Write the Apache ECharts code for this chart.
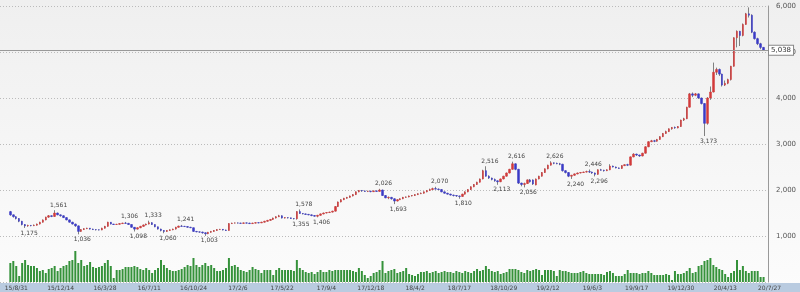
<!DOCTYPE html>
<html><head><meta charset="utf-8">
<script src="https://cdn.jsdelivr.net/npm/echarts@6/dist/echarts.min.js"></script>
<style>html,body{margin:0;padding:0;background:#fff}#c{width:800px;height:292px}</style>
</head><body><div id="c"></div>
<script>
// ---- data (weekly, first week 2015-08-31) ----
const firstWeek = [2015, 8, 31];
const tickLabels = ['15/8/31','15/12/14','16/3/28','16/7/11','16/10/24','17/2/6','17/5/22','17/9/4','17/12/18','18/4/2','18/7/17','18/10/29','19/2/12','19/6/3','19/9/17','19/12/30','20/4/13','20/7/27'];
const tickEvery = 15;
// [open, close, low, high]
const ohlc = [
[1530,1460,1440,1545],[1460,1420,1400,1470],[1420,1380,1360,1430],[1380,1320,1300,1390],[1320,1250,1230,1330],
[1250,1220,1175,1260],[1220,1230,1200,1245],[1230,1225,1210,1240],[1225,1235,1215,1250],[1235,1260,1225,1270],
[1260,1300,1250,1310],[1300,1350,1290,1360],[1350,1410,1340,1420],[1410,1440,1395,1455],[1440,1425,1410,1450],
[1425,1500,1415,1561],[1500,1460,1450,1510],[1460,1440,1420,1470],[1440,1400,1390,1450],[1400,1350,1340,1410],
[1350,1300,1290,1360],[1300,1260,1250,1310],[1260,1220,1200,1270],[1220,1100,1036,1230],[1100,1140,1090,1150],
[1140,1160,1130,1170],[1160,1170,1150,1180],[1170,1150,1140,1175],[1150,1140,1130,1160],[1140,1135,1120,1150],
[1135,1130,1120,1145],[1130,1170,1125,1180],[1170,1210,1160,1220],[1210,1300,1200,1310],[1300,1260,1250,1305],
[1260,1250,1240,1265],[1250,1255,1240,1265],[1255,1270,1245,1280],[1270,1280,1260,1290],[1280,1275,1265,1306],
[1275,1250,1240,1285],[1250,1190,1180,1255],[1190,1150,1098,1195],[1150,1180,1140,1190],[1180,1210,1170,1220],
[1210,1240,1200,1250],[1240,1260,1230,1270],[1260,1290,1250,1333],[1290,1250,1240,1300],[1250,1200,1190,1255],
[1200,1150,1140,1205],[1150,1120,1100,1160],[1120,1100,1060,1130],[1100,1120,1090,1130],[1120,1135,1110,1145],
[1135,1150,1125,1160],[1150,1190,1140,1200],[1190,1215,1180,1225],[1215,1210,1200,1241],[1210,1205,1195,1220],
[1205,1190,1180,1215],[1190,1180,1170,1200],[1180,1100,1090,1185],[1100,1090,1080,1110],[1090,1085,1070,1100],
[1085,1070,1050,1095],[1070,1050,1003,1080],[1050,1080,1040,1090],[1080,1100,1070,1110],[1100,1120,1090,1130],
[1120,1140,1110,1150],[1140,1145,1130,1155],[1145,1130,1120,1150],[1130,1120,1110,1140],[1120,1270,1115,1280],
[1270,1280,1260,1290],[1280,1285,1270,1295],[1285,1280,1270,1295],[1280,1275,1265,1290],[1275,1285,1265,1295],
[1285,1280,1270,1295],[1280,1270,1260,1290],[1270,1280,1260,1290],[1280,1290,1270,1300],[1290,1285,1275,1300],
[1285,1300,1280,1310],[1300,1320,1290,1330],[1320,1340,1310,1350],[1340,1360,1330,1370],[1360,1390,1350,1400],
[1390,1420,1380,1430],[1420,1440,1410,1460],[1440,1390,1380,1450],[1390,1400,1380,1410],[1400,1395,1380,1410],
[1395,1380,1370,1400],[1380,1375,1360,1390],[1375,1530,1355,1540],[1530,1490,1480,1578],[1490,1480,1470,1500],
[1480,1470,1460,1490],[1470,1460,1450,1480],[1460,1445,1430,1470],[1445,1430,1420,1455],[1430,1450,1406,1460],
[1450,1480,1440,1490],[1480,1500,1470,1510],[1500,1510,1490,1520],[1510,1520,1500,1530],[1520,1540,1510,1550],
[1540,1640,1530,1650],[1640,1740,1630,1750],[1740,1790,1730,1800],[1790,1820,1780,1830],[1820,1840,1810,1850],
[1840,1870,1830,1880],[1870,1900,1860,1910],[1900,1960,1890,1970],[1960,1990,1950,2000],[1990,1980,1960,2000],
[1980,1970,1960,1990],[1970,1975,1955,1985],[1975,1965,1950,1985],[1965,1980,1955,1990],[1980,1970,1960,1990],
[1970,2000,1960,2026],[2000,1880,1870,2010],[1880,1830,1820,1890],[1830,1840,1800,1860],[1840,1810,1790,1850],
[1810,1760,1693,1820],[1760,1790,1750,1800],[1790,1810,1780,1820],[1810,1840,1800,1850],[1840,1850,1830,1860],
[1850,1870,1840,1880],[1870,1880,1860,1890],[1880,1900,1870,1910],[1900,1920,1890,1930],[1920,1930,1910,1945],
[1930,1960,1920,1970],[1960,1990,1950,2000],[1990,2010,1980,2030],[2010,2030,2000,2050],[2030,2020,2010,2070],
[2020,2010,2000,2035],[2010,1960,1950,2020],[1960,1930,1920,1970],[1930,1910,1900,1940],[1910,1890,1880,1920],
[1890,1880,1860,1900],[1880,1870,1850,1890],[1870,1860,1810,1880],[1860,1910,1850,1920],[1910,1960,1900,1970],
[1960,2010,1950,2020],[2010,2070,2000,2080],[2070,2120,2060,2130],[2120,2170,2110,2180],[2170,2240,2160,2250],
[2240,2420,2230,2440],[2420,2300,2290,2516],[2300,2260,2240,2320],[2260,2230,2210,2270],[2230,2200,2180,2250],
[2200,2180,2113,2210],[2180,2240,2170,2250],[2240,2300,2230,2310],[2300,2370,2290,2380],[2370,2450,2360,2460],
[2450,2570,2440,2616],[2570,2450,2430,2580],[2450,2150,2130,2460],[2150,2120,2080,2160],[2120,2140,2056,2160],
[2140,2220,2130,2230],[2220,2180,2160,2240],[2220,2130,2110,2230],[2110,2240,2100,2250],[2240,2300,2230,2310],
[2300,2380,2290,2390],[2380,2460,2370,2470],[2460,2540,2450,2550],[2540,2590,2530,2626],[2590,2580,2560,2600],
[2580,2570,2560,2595],[2570,2560,2540,2590],[2560,2420,2400,2570],[2420,2380,2360,2430],[2380,2300,2280,2390],
[2300,2320,2240,2330],[2320,2350,2310,2360],[2350,2370,2340,2380],[2370,2380,2360,2390],[2380,2390,2370,2400],
[2390,2400,2380,2420],[2400,2390,2370,2446],[2390,2370,2350,2400],[2370,2340,2296,2380],[2340,2440,2330,2450],
[2440,2430,2420,2460],[2430,2420,2400,2440],[2420,2440,2410,2450],[2440,2520,2430,2560],[2520,2500,2490,2530],
[2500,2480,2470,2510],[2480,2470,2460,2490],[2470,2530,2460,2540],[2530,2550,2520,2560],[2550,2540,2520,2570],
[2540,2720,2530,2730],[2720,2780,2710,2800],[2780,2760,2740,2790],[2760,2740,2720,2770],[2740,2800,2730,2810],
[2800,2940,2790,2950],[2940,3050,2930,3060],[3050,3070,3040,3090],[3070,3060,3040,3090],[3060,3100,3050,3110],
[3100,3160,3090,3170],[3160,3230,3150,3240],[3230,3270,3220,3290],[3270,3330,3260,3340],[3330,3360,3310,3370],
[3360,3350,3330,3380],[3350,3380,3340,3390],[3380,3520,3370,3530],[3520,3550,3500,3570],[3550,3800,3540,3810],
[3800,4090,3790,4110],[4090,4060,4020,4120],[4060,4090,4040,4110],[4090,4000,3980,4100],[4000,3880,3860,4010],
[3880,3450,3173,3890],[3450,4000,3420,4020],[4000,4130,3960,4250],[4130,4560,4120,4770],[4560,4620,4500,4660],
[4620,4520,4480,4640],[4520,4280,4250,4530],[4280,4320,4260,4380],[4320,4400,4300,4420],[4400,4690,4380,4700],
[4690,5310,4680,5320],[5310,5450,5100,5470],[5450,5360,5130,5460],[5360,5600,5340,5620],[5600,5830,5590,5850],
[5830,5800,5750,5970],[5800,5430,5410,5820],[5430,5290,5270,5450],[5290,5180,5150,5310],[5180,5100,5060,5200],
[5100,5038,5030,5110]
];
const volumes = [
19,21,16,6,19,22,17,16,16,14,11,12,9,13,14,16,11,14,16,17,
21,22,31,19,22,16,17,20,15,14,15,16,19,22,16,4,12,12,13,15,
15,15,16,15,13,12,14,12,9,12,14,22,17,14,12,11,11,12,13,15,
17,16,24,17,15,17,19,16,17,14,11,11,12,14,24,16,17,15,12,11,
10,12,15,13,12,9,12,12,12,7,12,14,12,12,12,12,11,22,14,12,
10,9,10,8,10,12,10,10,12,11,12,12,12,12,12,12,11,10,14,11,
7,4,6,9,10,12,21,9,11,12,13,9,10,11,14,8,7,6,8,10,
10,11,9,10,11,9,10,11,10,10,9,11,10,9,11,10,9,11,13,11,
12,16,13,11,10,11,8,9,10,13,13,13,12,10,9,12,11,12,13,12,
7,12,12,12,11,6,12,11,11,10,9,9,9,10,11,9,8,8,8,8,
8,7,10,11,9,6,6,6,8,12,9,9,9,8,9,9,11,9,7,7,
7,7,8,7,2,11,8,8,9,11,14,9,10,16,17,21,22,24,17,15,
13,12,8,5,9,11,22,12,16,11,9,11,11,11,5,5
];
const highMarks = [[15,1561],[39,1306],[47,1333],[58,1241],[98,1578],[125,2026],[144,2070],[161,2516],[170,2616],[183,2626],[196,2446]];
const lowMarks = [[5,1175],[23,1036],[42,1098],[52,1060],[66,1003],[97,1355],[104,1406],[130,1693],[152,1810],[165,2113],[174,2056],[190,2240],[198,2296],[235,3173]];
const lastPrice = 5038;

// ---- build ----
const PADL = 3, PADR = 1;
const N = ohlc.length;
const cats = [];
for (let k = 0; k < PADL; k++) cats.push('p' + k);
const d0 = Date.UTC(firstWeek[0], firstWeek[1] - 1, firstWeek[2]);
for (let i = 0; i < N; i++) {
  const d = new Date(d0 + i * 7 * 86400000);
  cats.push(String(d.getUTCFullYear()).slice(2) + '/' + (d.getUTCMonth() + 1) + '/' + d.getUTCDate());
}
for (let k = 0; k < PADR; k++) cats.push('q' + k);
const pad = a => Array(PADL).fill('-').concat(a, Array(PADR).fill('-'));
const wickData = pad(ohlc.map(r => [r[2], r[3], r[2], r[3]]));
const bodyData = pad(ohlc.map(r => [r[0], r[1], Math.min(r[0], r[1]), Math.max(r[0], r[1])]));
const volData = pad(volumes);
const fmt = v => Number(v).toLocaleString('en-US');
const FONT = 'DejaVu Sans';

const mp = [];
highMarks.forEach(([i, v]) => mp.push({coord: [i + PADL, v], value: v, label: {position: 'top', distance: 2}}));
lowMarks.forEach(([i, v]) => mp.push({coord: [i + PADL, v], value: v, label: {position: 'bottom', distance: 2}}));

const chart = echarts.init(document.getElementById('c'), null, {renderer: 'canvas'});
chart.setOption({
  animation: false,
  backgroundColor: {type: 'linear', x: 0, y: 0, x2: 0, y2: 1, colorStops: [{offset: 0, color: '#efefef'}, {offset: 1, color: '#fcfcfc'}]},
  graphic: [{type: 'rect', z: -1, shape: {x: 0, y: 283, width: 800, height: 9}, style: {fill: '#b9cbe0'}}],
  grid: {left: 0, right: 32, top: 6, bottom: 10},
  xAxis: {
    type: 'category', data: cats, boundaryGap: true,
    axisLine: {show: false}, axisTick: {show: false}, splitLine: {show: false},
    axisLabel: {
      interval: idx => idx >= PADL && idx < PADL + N && (idx - PADL) % tickEvery === 0,
      formatter: (val, idx) => tickLabels[(idx - PADL) / tickEvery] || '',
      fontSize: 6, fontFamily: FONT, color: '#444', margin: 3, padding: [0, 0, 0, 12]
    }
  },
  yAxis: [{
    type: 'value', position: 'right', min: 0, max: 6000, interval: 1000,
    axisLine: {show: true, lineStyle: {color: '#999'}}, axisTick: {show: false},
    axisLabel: {formatter: v => fmt(v), fontSize: 7, fontFamily: FONT, color: '#555', margin: 8, showMinLabel: false},
    splitLine: {show: true, lineStyle: {color: '#bbb', type: [1, 2]}}
  }, {
    type: 'value', min: 0, max: 276, show: false, splitLine: {show: false}
  }],
  series: [{
    type: 'bar', yAxisIndex: 1, data: volData, barWidth: 2,
    itemStyle: {color: '#35923a'}, silent: true
  }, {
    type: 'candlestick', data: wickData, barWidth: 1, silent: true,
    itemStyle: {color: '#808080', color0: '#808080', borderColor: '#808080', borderColor0: '#808080', borderWidth: 1}
  }, {
    type: 'candlestick', data: bodyData, barWidth: 2, silent: true,
    itemStyle: {color: '#d23a3a', color0: '#3a3ac6', borderColor: '#d23a3a', borderColor0: '#3a3ac6', borderWidth: 0.5},
    markPoint: {
      symbol: 'circle', symbolSize: 0, silent: true,
      label: {show: true, formatter: p => fmt(p.value), fontSize: 6, fontFamily: FONT, color: '#444', offset: [4, 0]},
      data: mp
    },
    markLine: {
      symbol: 'none', silent: true, animation: false,
      lineStyle: {color: '#999', type: 'solid', width: 1},
      label: {show: true, position: 'end', distance: 1, formatter: fmt(lastPrice), fontSize: 7, fontFamily: FONT, color: '#333',
        backgroundColor: '#fff', borderColor: '#888', borderWidth: 1, padding: [1, 2, 1, 2]},
      data: [{yAxis: lastPrice}]
    }
  }]
});
</script></body></html>
